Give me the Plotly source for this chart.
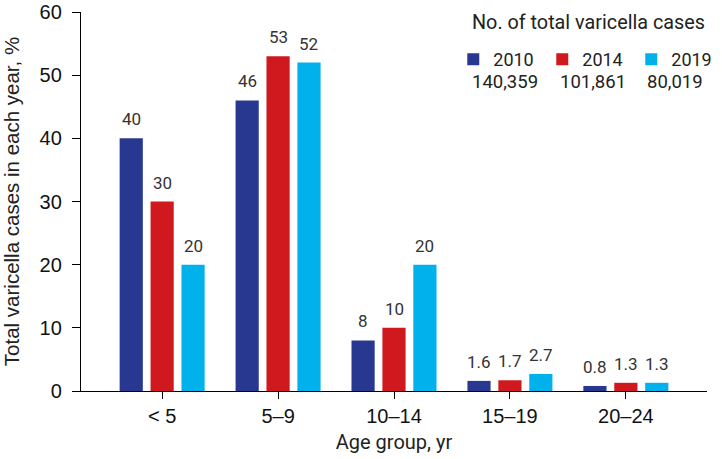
import plotly.graph_objects as go

categories = ["< 5", "5–9", "10–14", "15–19", "20–24"]
years = ["2010", "2014", "2019"]
totals = ["140,359", "101,861", "80,019"]
v2010 = [40, 46, 8, 1.6, 0.8]
v2014 = [30, 53, 10, 1.7, 1.3]
v2019 = [20, 52, 20, 2.7, 1.3]
labels2010 = ["40", "46", "8", "1.6", "0.8"]
labels2014 = ["30", "53", "10", "1.7", "1.3"]
labels2019 = ["20", "52", "20", "2.7", "1.3"]
colors = ["#283891", "#d0191e", "#00b1eb"]

series = [v2010, v2014, v2019]
series_labels = [labels2010, labels2014, labels2019]
xs = list(range(len(categories)))

# plot area in pixels
W, H = 722, 459
L, R, T, B = 81, 2, 12, 68
PX0, PX1 = L, W - R
PY0, PY1 = T, H - B


def px_to_paper(px, py):
    return (px - PX0) / (PX1 - PX0), (PY1 - py) / (PY1 - PY0)


fig = go.Figure()
for yr, vals, col in zip(years, series, colors):
    fig.add_trace(go.Bar(x=xs, y=vals, name=yr, marker=dict(color=col, line=dict(width=0))))

annotations = []
group_w = 0.8
step = group_w / 3
for j, (vals, labs) in enumerate(zip(series, series_labels)):
    for i, (v, t) in enumerate(zip(vals, labs)):
        annotations.append(dict(x=i + (j - 1) * step, y=v, xref="x", yref="y", text=t,
                                showarrow=False, yanchor="bottom", yshift=7,
                                font=dict(family="Roboto", size=17, color="#333333")))

tx, ty = px_to_paper(478, 23)
annotations.append(dict(x=tx, y=ty, xref="paper", yref="paper", text="No. of total varicella cases",
                        showarrow=False, xanchor="left", yanchor="middle",
                        font=dict(family="Roboto", size=19.8, color="#222222")))
for t, px in zip(totals, [478, 568, 657]):
    nx, ny = px_to_paper(px, 82)
    annotations.append(dict(x=nx, y=ny, xref="paper", yref="paper", text=t,
                            showarrow=False, xanchor="left", yanchor="middle",
                            font=dict(family="Roboto", size=18.5, color="#222222")))

lx, ly = px_to_paper(461, 41)

fig.update_layout(
    width=W, height=H,
    margin=dict(l=L, r=R, t=T, b=B),
    paper_bgcolor="white", plot_bgcolor="white",
    barmode="group", bargap=0.2, bargroupgap=0.25,
    showlegend=True,
    legend=dict(orientation="h", xref="paper", yref="paper",
                x=lx, y=ly, xanchor="left", yanchor="top",
                entrywidth=44, entrywidthmode="pixels", itemwidth=30,
                font=dict(family="Roboto", size=18, color="#222222"),
                bgcolor="rgba(0,0,0,0)", traceorder="normal"),
    xaxis=dict(range=[-0.7, 4.7], tickvals=xs, ticktext=categories, automargin=False,
               showline=True, linecolor="black", linewidth=1.3, showgrid=False, zeroline=False,
               ticks="outside", ticklen=7, tickcolor="black", tickwidth=1.3,
               tickfont=dict(family="Liberation Sans", size=20, color="#111111"),
               title=dict(text="Age group, yr", font=dict(family="Roboto", size=20, color="#222222"), standoff=8)),
    yaxis=dict(range=[0, 60], tickvals=[0, 10, 20, 30, 40, 50, 60], automargin=False,
               showline=True, linecolor="black", linewidth=1.3, showgrid=False, zeroline=False,
               ticks="outside", ticklen=8, tickcolor="black", tickwidth=1.3, ticklabelstandoff=6,
               tickfont=dict(family="Liberation Sans", size=20, color="#111111"),
               title=dict(text="Total varicella cases in each year, %",
                          font=dict(family="Liberation Sans", size=20.5, color="#222222"), standoff=14)),
    annotations=annotations,
)

fig.write_html("out.html", config={"displayModeBar": False},
               post_script="document.body.style.margin='0';document.body.style.padding='0';document.body.style.overflow='hidden';")
